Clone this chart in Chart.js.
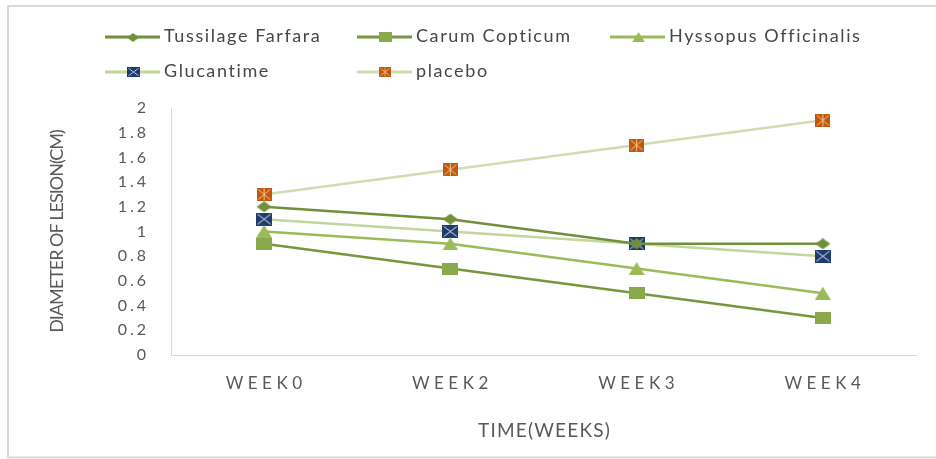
<!DOCTYPE html>
<html><head><meta charset="utf-8">
<script src="https://cdn.jsdelivr.net/npm/chart.js@4/dist/chart.umd.min.js"></script>
<style>html,body{margin:0;padding:0;background:#fff;}#wrap{width:936px;height:459px;position:relative;}canvas{display:block;}</style>
</head><body><div id="wrap"><canvas id="c" width="936" height="459"></canvas></div>
<script>
const categories = ['WEEK0', 'WEEK2', 'WEEK3', 'WEEK4'];
const seriesNames = ['Tussilage Farfara', 'Carum Copticum', 'Hyssopus Officinalis', 'Glucantime', 'placebo'];
const tussilage = [1.2, 1.1, 0.9, 0.9];
const carum = [0.9, 0.7, 0.5, 0.3];
const hyssopus = [1.0, 0.9, 0.7, 0.5];
const glucantime = [1.1, 1.0, 0.9, 0.8];
const placebo = [1.3, 1.5, 1.7, 1.9];
const yTickLabels = ['0', '0.2', '0.4', '0.6', '0.8', '1', '1.2', '1.4', '1.6', '1.8', '2'];
const xTitle = 'TIME(WEEKS)';
const yTitle = 'DIAMETER OF LESION(CM)';

const TXT = '#595959';
const FONT = 'Lato, "Open Sans", sans-serif';

function mk(w, h, draw) { const c = document.createElement('canvas'); c.width = w; c.height = h; draw(c.getContext('2d'), w, h); return c; }
const mDiamond = mk(15, 11, (g, w, h) => { g.fillStyle = '#71903B'; g.beginPath(); g.moveTo(w/2, 0); g.lineTo(w, h/2); g.lineTo(w/2, h); g.lineTo(0, h/2); g.closePath(); g.fill(); });
const mSquare = mk(16, 12, (g, w, h) => { g.fillStyle = '#8AA94C'; g.fillRect(0, 0, w, h); });
const mTri = mk(16, 13, (g, w, h) => { g.fillStyle = '#9BBB59'; g.beginPath(); g.moveTo(w/2, 0); g.lineTo(w, h); g.lineTo(0, h); g.closePath(); g.fill(); });
const mGluc = mk(16, 13, (g, w, h) => { g.fillStyle = '#1F3B6E'; g.fillRect(0, 0, w, h); g.strokeStyle = '#DCE6F2'; g.lineWidth = 1; g.beginPath(); g.moveTo(1.5, 1.5); g.lineTo(w-1.5, h-1.5); g.moveTo(w-1.5, 1.5); g.lineTo(1.5, h-1.5); g.stroke(); });
const mPlac = mk(15, 13, (g, w, h) => { g.fillStyle = '#C0590F'; g.fillRect(0, 0, w, h); g.strokeStyle = '#F4C590'; g.lineWidth = 1; g.beginPath(); g.moveTo(1.5, 1.5); g.lineTo(w-1.5, h-1.5); g.moveTo(w-1.5, 1.5); g.lineTo(1.5, h-1.5); g.moveTo(w/2, 0.5); g.lineTo(w/2, h-0.5); g.stroke(); });

const lineColors = ['#71903B', '#77973D', '#9BBB59', '#C3D69B', '#CFDEB1'];
const markers = [mDiamond, mSquare, mTri, mGluc, mPlac];
const seriesValues = [tussilage, carum, hyssopus, glucantime, placebo];

class SpacedCategoryScale extends Chart.CategoryScale {
  drawLabels(area) { const ctx = this.ctx; ctx.save(); ctx.letterSpacing = '4.5px'; ctx.translate(2, 0); super.drawLabels(area); ctx.restore(); }
}
SpacedCategoryScale.id = 'spacedCategory';
SpacedCategoryScale.defaults = Chart.CategoryScale.defaults;
class SpacedLinearScale extends Chart.LinearScale {
  drawLabels(area) { const ctx = this.ctx; ctx.save(); ctx.letterSpacing = '3px'; super.drawLabels(area); ctx.restore(); }
}
SpacedLinearScale.id = 'spacedLinear';
SpacedLinearScale.defaults = Chart.LinearScale.defaults;
Chart.register(SpacedCategoryScale, SpacedLinearScale);

const overlay = {
  id: 'overlay',
  beforeDraw(chart) {
    const ctx = chart.ctx;
    ctx.save();
    ctx.strokeStyle = '#D9D9D9'; ctx.lineWidth = 2;
    ctx.beginPath();
    ctx.moveTo(8, 6); ctx.lineTo(8, 457.5); ctx.lineTo(936, 457.5);
    ctx.moveTo(7, 6); ctx.lineTo(936, 6);
    ctx.stroke();
    ctx.restore();
  },
  afterDraw(chart) {
    const ctx = chart.ctx;
    const area = chart.chartArea;
    ctx.save();
    const cols = [105, 357, 610];
    const rows = [37, 72];
    seriesNames.forEach((name, i) => {
      const x = cols[i % 3], y = rows[Math.floor(i / 3)];
      ctx.strokeStyle = lineColors[i]; ctx.lineWidth = 3;
      ctx.beginPath(); ctx.moveTo(x, y); ctx.lineTo(x + 55, y); ctx.stroke();
      const m = markers[i];
      const mw = Math.round(m.width * 0.8), mh = Math.round(m.height * 0.8);
      ctx.drawImage(m, Math.round(x + 28 - mw / 2), Math.round(y - mh / 2), mw, mh);
      ctx.fillStyle = '#474747'; ctx.font = '18px ' + FONT; ctx.textBaseline = 'middle'; ctx.textAlign = 'left';
      ctx.letterSpacing = '1.6px';
      ctx.fillText(name, x + 59, y - 1);
      ctx.letterSpacing = '0px';
    });
    ctx.fillStyle = TXT; ctx.font = '19px ' + FONT; ctx.textAlign = 'center'; ctx.textBaseline = 'middle';
    ctx.letterSpacing = '1.2px';
    ctx.fillText(xTitle, (area.left + area.right) / 2 + 1, 431);
    ctx.letterSpacing = '-1px';
    ctx.translate(57, (area.top + area.bottom) / 2);
    ctx.rotate(-Math.PI / 2);
    ctx.font = '18px ' + FONT;
    ctx.fillText(yTitle, 0, 0);
    ctx.restore();
  }
};

new Chart(document.getElementById('c'), {
  type: 'line',
  data: {
    labels: categories,
    datasets: seriesNames.map((n, i) => ({
      label: n, data: seriesValues[i], borderColor: lineColors[i], backgroundColor: lineColors[i],
      borderWidth: 2.5, tension: 0, fill: false, pointStyle: markers[i], pointRadius: 7, clip: false
    }))
  },
  options: {
    responsive: false, animation: false, events: [],
    layout: { padding: { left: 8, top: 108, right: 20, bottom: 0 } },
    plugins: { legend: { display: false }, tooltip: { enabled: false } },
    scales: {
      x: {
        type: 'spacedCategory', offset: true,
        grid: { display: false, drawTicks: false },
        border: { display: true, color: '#D9D9D9', width: 1 },
        ticks: { padding: 18, color: TXT, font: { family: FONT, size: 17 } },
        afterFit(s) { s.height = 104; }
      },
      y: {
        type: 'spacedLinear', min: 0, max: 2,
        grid: { display: false, drawTicks: false },
        border: { display: true, color: '#D9D9D9', width: 1 },
        ticks: { stepSize: 0.2, padding: 22, color: TXT, font: { family: FONT, size: 16 }, callback: (v, i) => yTickLabels[i] },
        afterFit(s) { s.width = 163; }
      }
    }
  },
  plugins: [overlay]
});
</script>
</body></html>
